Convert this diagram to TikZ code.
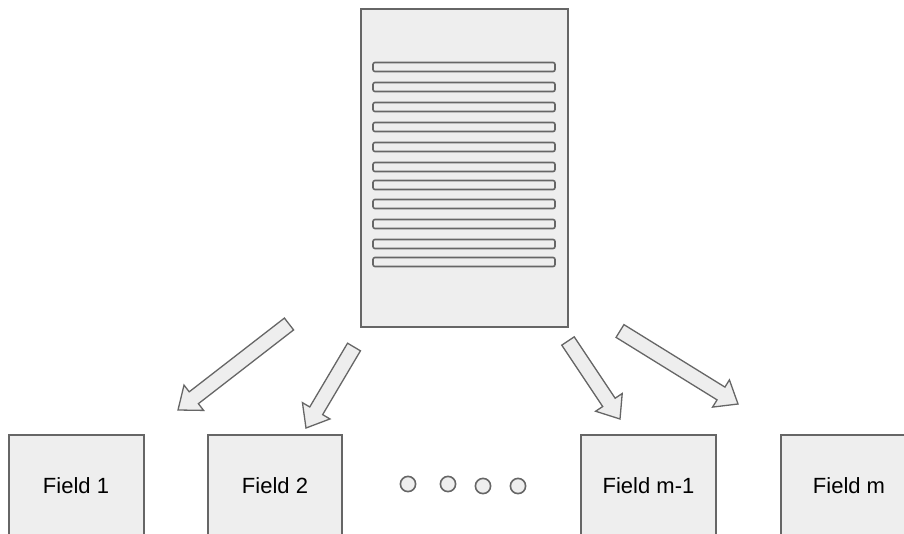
\documentclass[tikz,border=0pt]{standalone}
\usepackage{fontspec}
\setmainfont{Liberation Sans}
\usetikzlibrary{calc}
\definecolor{boxfill}{HTML}{EEEEEE}
\definecolor{boxline}{HTML}{666666}
\tikzset{
  paper/.style={draw=boxline, fill=boxfill, line width=1.3pt},
  textline/.style={draw=boxline, fill=boxfill, line width=1.6pt, rounded corners=2pt},
  fieldbox/.style={draw=boxline, fill=boxfill, line width=1.3pt},
  fieldlabel/.style={font=\fontsize{22}{26}\selectfont, inner sep=0pt},
  dotcirc/.style={draw=boxline, fill=boxfill, line width=1.6pt},
  blockarrow/.style={draw=boxline, fill=boxfill, line width=1.3pt, line join=miter}
}
\newcommand{\bigarrow}[2]{%
  \coordinate (h) at ($(#2)!20pt!(#1)$);
  \path[blockarrow]
    ($(#1)!7.5pt!90:(#2)$) --
    ($(h)!7.5pt!90:(#2)$) --
    ($(h)!16pt!90:(#2)$) --
    (#2) --
    ($(h)!16pt!-90:(#2)$) --
    ($(h)!7.5pt!-90:(#2)$) --
    ($(#1)!7.5pt!-90:(#2)$) -- cycle;
}
\begin{document}
\begin{tikzpicture}[x=1pt, y=-1pt]
\useasboundingbox[fill=white] (0,0) rectangle (904,533);
\clip (0,0) rectangle (904,533);
% document
\path[paper] (361,9) rectangle (568,327);
\foreach \yy in {67,87,107,127,147,167,185,204,224,244,262}{
  \path[textline] (373,\yy-4.5) rectangle (555,\yy+4.5);
}
% field boxes
\path[fieldbox] (9,435) rectangle (144,545);
\path[fieldbox] (208,435) rectangle (342,545);
\path[fieldbox] (581,435) rectangle (716,545);
\path[fieldbox] (781,435) rectangle (916,545);
\node[fieldlabel] (f1) at (76,486) {Field 1};
\node[fieldlabel] (f2) at (275,486) {Field 2};
\node[fieldlabel] (fm1) at (648.5,486) {Field m-1};
\node[fieldlabel] (fm) at (849,486) {Field m};
% dots
\foreach \xx/\yy in {408/484,448/484,483/486,518/486}{
  \path[dotcirc] (\xx,\yy) circle (7.6);
}
% arrows
\coordinate (a1s) at (289,324); \coordinate (a1e) at (178,410);
\coordinate (a2s) at (354,347); \coordinate (a2e) at (306,428);
\coordinate (a3s) at (568,341); \coordinate (a3e) at (620,419);
\coordinate (a4s) at (620,331); \coordinate (a4e) at (738,404);
\bigarrow{a1s}{a1e}
\bigarrow{a2s}{a2e}
\bigarrow{a3s}{a3e}
\bigarrow{a4s}{a4e}
\end{tikzpicture}
\end{document}
